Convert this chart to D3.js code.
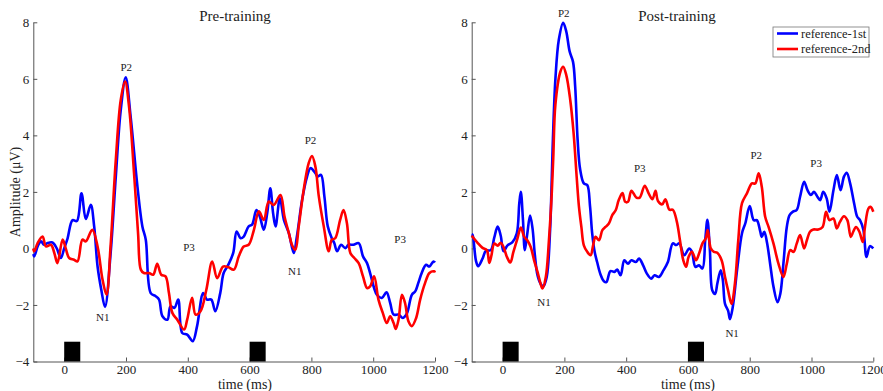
<!DOCTYPE html>
<html>
<head>
<meta charset="utf-8">
<script src="https://cdn.jsdelivr.net/npm/d3@7/dist/d3.min.js"></script>
<style>
  body { margin:0; background:#fff; }
  svg { display:block; }
  svg text { font-family:"Liberation Serif","Times New Roman",Times,"DejaVu Serif",serif; }
  .axis path, .axis line { stroke:#555; }
  .axis text { fill:#222; font-size:13px; }
  .ann { font-size:11px; fill:#222; text-anchor:middle; }
</style>
</head>
<body>
<svg id="chart" width="883" height="391"></svg>
<script>
const FONT = '"Liberation Serif","Times New Roman",Times,"DejaVu Serif",serif'

// [time ms, amplitude µV]
const preFirst = [[-100,-0.2],[-97,-0.28],[-85,0.1],[-75,0.25],[-65,0.13],[-54,0.19],[-38,0.21],[-24,0],[-11,-0.34],[0,0],[11,0.36],[27,1.0],[41,0.97],[56,1.95],[70,1.04],[86,1.54],[97,0.78],[108,-0.64],[120,-1.46],[132,-2.07],[150,-0.2],[167,2.54],[183,4.89],[199,6.05],[215,4.66],[237,2.19],[253,0.78],[264,0.31],[280,-1.58],[296,-1.69],[307,-1.81],[318,-2.4],[334,-2.52],[344,-2.05],[357,-2.1],[369,-1.81],[382,-2.99],[398,-3.05],[416,-3.28],[430,-2.75],[450,-1.58],[462,-1.81],[476,-1.81],[489,-2.22],[505,-1.58],[516,-0.87],[530,-0.6],[547,-0.16],[558,0.6],[571,0.36],[581,0.42],[597,0.78],[608,0.84],[622,1.36],[633,1.13],[646,0.66],[657,1.25],[667,2.13],[676,1.25],[684,0.78],[698,1.78],[711,1.01],[727,0.54],[743,-0.16],[753,0.42],[770,1.72],[786,2.54],[797,2.84],[813,2.66],[820,2.54],[831,2.6],[842,1.84],[853,0.78],[866,0.36],[874,0.19],[883,-0.1],[896,0.13],[910,0.01],[920,0.13],[936,0.13],[953,0.19],[967,-0.28],[980,-0.52],[990,-0.87],[1012,-1.64],[1028,-1.75],[1043,-1.55],[1055,-1.93],[1066,-2.34],[1082,-2.34],[1096,-2.46],[1109,-2.3],[1125,-1.64],[1136,-1.52],[1146,-1.22],[1157,-0.87],[1171,-0.58],[1182,-0.64],[1195,-0.46],[1200,-0.5]]
const preSecond = [[-100,0],[-97,-0.1],[-86,0.19],[-70,0.42],[-59,0.07],[-43,0.13],[-32,-0.16],[-22,-0.52],[-5,0.31],[5,0],[16,-0.34],[32,-0.4],[43,-0.46],[59,0.31],[70,0.25],[91,0.66],[108,0.07],[124,-1.1],[137,-1.64],[150,0.07],[167,3.13],[183,5.25],[197,5.9],[210,5.0],[226,2.66],[239,0.54],[248,-0.75],[258,-0.87],[274,-0.87],[288,-0.93],[301,-0.54],[314,-0.93],[328,-0.99],[339,-1.58],[350,-2.28],[366,-2.52],[388,-2.87],[398,-2.52],[414,-1.75],[425,-2.34],[441,-2.22],[460,-1.46],[479,-0.46],[495,-1.05],[514,-0.64],[530,-0.66],[549,-0.75],[565,-0.28],[581,0.07],[597,0.13],[614,0.66],[630,1.31],[646,1.01],[662,1.66],[678,1.54],[700,1.89],[713,1.13],[727,0.54],[737,0.13],[748,-0.05],[759,0.78],[775,2.07],[791,3.01],[802,3.27],[813,2.89],[824,1.84],[840,0.78],[856,-0.1],[866,0.31],[877,0.36],[893,1.01],[904,1.36],[915,0.89],[926,-0.16],[939,-0.34],[953,-0.52],[967,-0.99],[980,-1.4],[990,-1.34],[1003,-0.99],[1017,-1.81],[1031,-2.28],[1044,-2.64],[1055,-2.4],[1066,-2.64],[1073,-2.85],[1082,-2.52],[1093,-1.64],[1103,-1.93],[1114,-2.58],[1125,-2.75],[1139,-2.46],[1152,-1.81],[1168,-1.22],[1182,-0.87],[1197,-0.81],[1200,-0.85]]
const postFirst = [[-100,0.5],[-97,0.47],[-86,-0.45],[-79,-0.63],[-65,-0.36],[-54,-0.08],[-38,-0.06],[-27,0.38],[-16,0.77],[-6,0.45],[3,-0.1],[16,0.11],[32,0.22],[46,0.53],[54,1.59],[59,2.0],[66,1.0],[72,-0.06],[80,0.53],[89,1.16],[97,0.7],[104,-0.18],[113,-0.95],[123,-1.25],[132,-1.34],[143,-1.0],[154,0.7],[158,2.0],[163,3.9],[171,6.0],[182,7.38],[196,7.98],[206,7.68],[217,6.97],[228,6.6],[235,5.72],[243,3.82],[251,2.8],[263,2.3],[274,2.24],[283,1.5],[290,0.53],[298,-0.12],[306,-0.48],[317,-0.92],[328,-1.16],[336,-1.19],[349,-0.8],[362,-0.83],[371,-0.75],[382,-0.95],[394,-0.42],[406,-0.54],[417,-0.42],[431,-0.48],[442,-0.36],[455,-0.6],[467,-0.89],[481,-1.07],[492,-0.95],[506,-1.01],[521,-0.77],[535,-0.48],[551,0.18],[562,0.12],[572,0.18],[588,-0.24],[604,0],[613,-0.12],[624,-0.65],[636,-0.6],[647,-0.71],[656,0.3],[663,1.01],[671,-0.06],[679,-1.49],[688,-1.61],[695,-1.25],[706,-0.77],[713,-1.13],[720,-1.96],[730,-2.2],[736,-2.5],[745,-2.08],[759,-0.77],[775,0.54],[786,0.9],[800,1.5],[813,1.0],[823,1.0],[834,0.6],[839,0.41],[847,0.59],[856,0.2],[866,-0.54],[877,-1.36],[890,-1.9],[899,-1.6],[909,-0.54],[920,0.76],[929,1.18],[940,1.3],[952,1.36],[963,1.83],[976,2.36],[987,2.06],[998,1.89],[1008,2.0],[1019,1.83],[1028,1.71],[1038,2.0],[1049,1.77],[1058,1.3],[1071,2.06],[1082,2.6],[1094,2.06],[1105,2.54],[1114,2.68],[1125,2.3],[1138,1.59],[1148,1.12],[1157,1.0],[1168,0.65],[1178,-0.3],[1189,0.08],[1200,0]]
const postSecond = [[-100,0.45],[-97,0.41],[-81,0.2],[-65,0.02],[-51,-0.06],[-43,-0.51],[-36,-0.24],[-27,0.17],[-16,0.1],[-6,0.2],[3,0.05],[14,-0.3],[25,-0.5],[35,-0.12],[48,0.35],[59,0.74],[70,0.41],[80,0.29],[91,0.05],[102,-0.42],[113,-0.83],[123,-1.25],[129,-1.42],[140,-1.0],[150,0.29],[158,1.71],[164,3.2],[171,5.1],[187,6.25],[196,6.43],[206,6.14],[219,5.25],[230,4.06],[240,2.5],[247,1.5],[255,0.76],[263,0.11],[274,-0.12],[285,-0.24],[293,0.11],[301,0.41],[312,0.29],[323,0.65],[333,0.76],[344,0.88],[355,1.18],[366,1.35],[376,1.71],[388,1.96],[397,1.65],[406,1.65],[417,2.04],[433,1.8],[444,1.8],[460,2.22],[474,1.92],[485,1.74],[495,2.04],[503,1.68],[517,1.56],[527,1.74],[540,1.37],[551,1.37],[564,0.95],[574,0.3],[585,-0.42],[594,-0.65],[602,-0.3],[613,-0.12],[626,-0.42],[636,-0.18],[647,0.18],[658,0.36],[664,0.65],[674,0],[684,-0.12],[695,-0.15],[709,-0.42],[720,-1.01],[730,-1.49],[741,-1.96],[752,-1.25],[763,0.3],[775,1.6],[791,1.95],[807,2.3],[818,2.3],[829,2.66],[839,2.18],[850,1.12],[861,0.76],[877,0.17],[893,-0.54],[909,-1.01],[920,-0.54],[931,-0.06],[942,-0.12],[952,0.17],[963,0.47],[976,0],[985,0.29],[995,0.59],[1006,0.67],[1022,0.67],[1036,0.76],[1047,1.3],[1058,1.0],[1071,1.06],[1082,0.71],[1092,0.94],[1105,1.14],[1116,1.0],[1127,0.41],[1135,0.59],[1144,0.76],[1155,0.59],[1166,0.23],[1173,0.76],[1184,1.41],[1191,1.47],[1200,1.3]]

// stimulus markers [start, end] ms
const stimuli = [[0,52],[600,652]]
const xTicks = [0,200,400,600,800,1000,1200]
const yTicks = [-4,-2,0,2,4,6,8]
const seriesNames = ['reference-1st','reference-2nd']
const seriesColors = ['#0000ff','#ff0000']

// component labels [text, time, amplitude] (text baseline)
const preLabels = [['P2',201,6.29],['P2',797,3.7],['N1',125,-2.55],['P3',404,-0.08],['N1',746,-0.93],['P3',1087,0.2]]
const postLabels = [['P2',198,8.17],['P3',444,2.7],['P2',821,3.16],['P3',1015,2.88],['N1',134,-2.03],['N1',743,-3.13]]

const svg = d3.select('#chart')

function panel(opts){
  const x = d3.scaleLinear().domain([-100,1200]).range([opts.x0, opts.x1])
  const y = d3.scaleLinear().domain([-4,8]).range([361.5, 22.3])
  const g = svg.append('g')

  g.append('g').attr('class','axis')
    .attr('transform', `translate(0,${y(-4)})`)
    .call(d3.axisBottom(x).tickValues(xTicks).tickFormat(d3.format('d'))
      .tickSizeInner(-4).tickSizeOuter(0).tickPadding(3))
  g.append('g').attr('class','axis')
    .attr('transform', `translate(${x(-100)},0)`)
    .call(d3.axisLeft(y).tickValues(yTicks).tickFormat(d3.format('d'))
      .tickSizeInner(-4).tickSizeOuter(0).tickPadding(4))
  g.selectAll('.axis').attr('font-family', FONT)

  g.selectAll('rect.stim').data(stimuli).enter().append('rect')
    .attr('class','stim')
    .attr('x', d => x(d[0])).attr('width', d => x(d[1]) - x(d[0]))
    .attr('y', y(-3.3)).attr('height', y(-4) - y(-3.3))
    .attr('fill','#000')

  const line = d3.line().x(d => x(d[0])).y(d => y(d[1])).curve(d3.curveCatmullRom.alpha(0.5))
  opts.series.forEach((s,i) => {
    g.append('path').attr('d', line(s))
      .attr('fill','none').attr('stroke', seriesColors[i])
      .attr('stroke-width', 2.6).attr('stroke-linejoin','round')
  })

  g.selectAll('text.ann').data(opts.labels).enter().append('text')
    .attr('class','ann')
    .attr('x', d => x(d[1])).attr('y', d => y(d[2]))
    .text(d => d[0])

  g.append('text').attr('x', opts.titleX).attr('y', 21)
    .attr('text-anchor','middle').style('font-size','15px').attr('fill','#222')
    .text(opts.title)
  g.append('text').attr('x', opts.xLabelX).attr('y', 389)
    .attr('text-anchor','middle').style('font-size','14px').attr('fill','#222')
    .text('time (ms)')
  return { x, y, g }
}

panel({ x0:33.3, x1:435, series:[preFirst, preSecond], labels:preLabels, title:'Pre-training', titleX:235, xLabelX:245 })
panel({ x0:471.7, x1:873.3, series:[postFirst, postSecond], labels:postLabels, title:'Post-training', titleX:677, xLabelX:688 })

svg.append('text')
  .attr('transform','translate(20,192) rotate(-90)')
  .attr('text-anchor','middle').style('font-size','14px').attr('fill','#222')
  .text('Amplitude (\u03bcV)')

// legend
const lg = svg.append('g').attr('transform','translate(773,27)')
lg.append('rect').attr('width',96).attr('height',30).attr('fill','#fff').attr('stroke','#777').attr('stroke-width',0.8)
seriesNames.forEach((n,i) => {
  const yy = 6.5 + i*15.5
  lg.append('line').attr('x1',4).attr('x2',25).attr('y1',yy).attr('y2',yy)
    .attr('stroke', seriesColors[i]).attr('stroke-width',2.6)
  lg.append('text').attr('x',28).attr('y',yy+4).style('font-size','12.5px').attr('fill','#222').text(n)
})
</script>
</body>
</html>
